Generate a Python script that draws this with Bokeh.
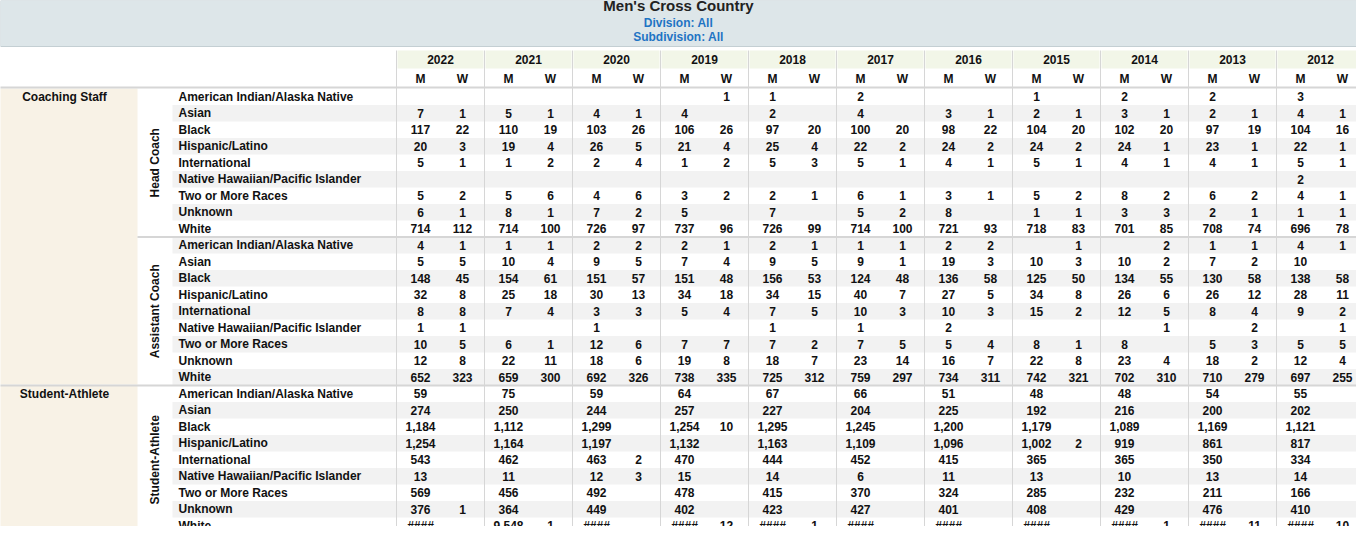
from math import pi
from bokeh.plotting import figure
from bokeh.models import ColumnDataSource, Range1d
from bokeh.core.properties import value
from bokeh.embed import file_html
from bokeh.resources import INLINE

years = ["2022", "2021", "2020", "2019", "2018", "2017", "2016", "2015", "2014", "2013", "2012"]
races = ["American Indian/Alaska Native", "Asian", "Black", "Hispanic/Latino", "International",
         "Native Hawaiian/Pacific Islander", "Two or More Races", "Unknown", "White"]
sections = ["Head Coach", "Assistant Coach", "Student-Athlete"]

head_m = {
    "2022": ["", 7, 117, 20, 5, "", 5, 6, 714],
    "2021": ["", 5, 110, 19, 1, "", 5, 8, 714],
    "2020": ["", 4, 103, 26, 2, "", 4, 7, 726],
    "2019": ["", 4, 106, 21, 1, "", 3, 5, 737],
    "2018": [1, 2, 97, 25, 5, "", 2, 7, 726],
    "2017": [2, 4, 100, 22, 5, "", 6, 5, 714],
    "2016": ["", 3, 98, 24, 4, "", 3, 8, 721],
    "2015": [1, 2, 104, 24, 5, "", 5, 1, 718],
    "2014": [2, 3, 102, 24, 4, "", 8, 3, 701],
    "2013": [2, 2, 97, 23, 4, "", 6, 2, 708],
    "2012": [3, 4, 104, 22, 5, 2, 4, 1, 696],
}
head_w = {
    "2022": ["", 1, 22, 3, 1, "", 2, 1, 112],
    "2021": ["", 1, 19, 4, 2, "", 6, 1, 100],
    "2020": ["", 1, 26, 5, 4, "", 6, 2, 97],
    "2019": [1, "", 26, 4, 2, "", 2, "", 96],
    "2018": ["", "", 20, 4, 3, "", 1, "", 99],
    "2017": ["", "", 20, 2, 1, "", 1, 2, 100],
    "2016": ["", 1, 22, 2, 1, "", 1, "", 93],
    "2015": ["", 1, 20, 2, 1, "", 2, 1, 83],
    "2014": ["", 1, 20, 1, 1, "", 2, 3, 85],
    "2013": ["", 1, 19, 1, 1, "", 2, 1, 74],
    "2012": ["", 1, 16, 1, 1, "", 1, 1, 78],
}
asst_m = {
    "2022": [4, 5, 148, 32, 8, 1, 10, 12, 652],
    "2021": [1, 10, 154, 25, 7, "", 6, 22, 659],
    "2020": [2, 9, 151, 30, 3, 1, 12, 18, 692],
    "2019": [2, 7, 151, 34, 5, "", 7, 19, 738],
    "2018": [2, 9, 156, 34, 7, 1, 7, 18, 725],
    "2017": [1, 9, 124, 40, 10, 1, 7, 23, 759],
    "2016": [2, 19, 136, 27, 10, 2, 5, 16, 734],
    "2015": ["", 10, 125, 34, 15, "", 8, 22, 742],
    "2014": ["", 10, 134, 26, 12, "", 8, 23, 702],
    "2013": [1, 7, 130, 26, 8, "", 5, 18, 710],
    "2012": [4, 10, 138, 28, 9, "", 5, 12, 697],
}
asst_w = {
    "2022": [1, 5, 45, 8, 8, 1, 5, 8, 323],
    "2021": [1, 4, 61, 18, 4, "", 1, 11, 300],
    "2020": [2, 5, 57, 13, 3, "", 6, 6, 326],
    "2019": [1, 4, 48, 18, 4, "", 7, 8, 335],
    "2018": [1, 5, 53, 15, 5, "", 2, 7, 312],
    "2017": [1, 1, 48, 7, 3, "", 5, 14, 297],
    "2016": [2, 3, 58, 5, 3, "", 4, 7, 311],
    "2015": [1, 3, 50, 8, 2, "", 1, 8, 321],
    "2014": [2, 2, 55, 6, 5, 1, "", 4, 310],
    "2013": [1, 2, 58, 12, 4, 2, 3, 2, 279],
    "2012": [1, "", 58, 11, 2, 1, 5, 4, 255],
}
student_m = {
    "2022": ["59", "274", "1,184", "1,254", "543", "13", "569", "376", "####"],
    "2021": ["75", "250", "1,112", "1,164", "462", "11", "456", "364", "9,548"],
    "2020": ["59", "244", "1,299", "1,197", "463", "12", "492", "449", "####"],
    "2019": ["64", "257", "1,254", "1,132", "470", "15", "478", "402", "####"],
    "2018": ["67", "227", "1,295", "1,163", "444", "14", "415", "423", "####"],
    "2017": ["66", "204", "1,245", "1,109", "452", "6", "370", "427", "####"],
    "2016": ["51", "225", "1,200", "1,096", "415", "11", "324", "401", "####"],
    "2015": ["48", "192", "1,179", "1,002", "365", "13", "285", "408", "####"],
    "2014": ["48", "216", "1,089", "919", "365", "10", "232", "429", "####"],
    "2013": ["54", "200", "1,169", "861", "350", "13", "211", "476", "####"],
    "2012": ["55", "202", "1,121", "817", "334", "14", "166", "410", "####"],
}
student_w = {
    "2022": ["", "", "", "", "", "", "", "1", ""],
    "2021": ["", "", "", "", "", "", "", "", "1"],
    "2020": ["", "", "", "", "2", "3", "", "", ""],
    "2019": ["", "", "10", "", "", "", "", "", "12"],
    "2018": ["", "", "", "", "", "", "", "", "1"],
    "2017": ["", "", "", "", "", "", "", "", ""],
    "2016": ["", "", "", "", "", "", "", "", ""],
    "2015": ["", "", "", "2", "", "", "", "", ""],
    "2014": ["", "", "", "", "", "", "", "", "1"],
    "2013": ["", "", "", "", "", "", "", "", "11"],
    "2012": ["", "", "", "", "", "", "", "", "10"],
}

W, H = 1372, 542
# one unit = one window pixel; the page margin puts the plot at (8, 8)
p = figure(width=1356, height=526, x_range=Range1d(8, W - 8), y_range=Range1d(H - 8, 8),
           output_backend="svg", toolbar_location=None, min_border=0)
p.axis.visible = False
p.grid.visible = False
p.outline_line_color = None

FONT = value("Liberation Sans")
BLUE = "#1f74c4"
GRID = "#d6d6d6"

row_top, row_h = 96.0, 16.5
col0, col_w = 404.0, 88.0
nrows = len(sections) * len(races)

# title band
p.quad(left=[8], right=[W - 8], top=[8], bottom=[54], fill_color="#dde6e9", line_color="#c4cfd3")
p.text(x=[W / 2], y=[13], text=["Men's Cross Country"], text_font=FONT, text_font_style="bold",
       text_font_size="15px", text_color="#222222", text_align="center", text_baseline="middle")
p.text(x=[W / 2, W / 2], y=[30, 44], text=["Division: All", "Subdivision: All"], text_font=FONT,
       text_font_style="bold", text_font_size="12px", text_color=BLUE, text_align="center",
       text_baseline="middle")

# row shading
shade = [i for i in range(nrows) if i % 2 == 1]
p.quad(left=180, right=W, top=[row_top + i * row_h for i in shade],
       bottom=[row_top + (i + 1) * row_h for i in shade], fill_color="#f2f2f2", line_color=None)
# beige left column
p.quad(left=0, right=145, top=[row_top, row_top + 18 * row_h], bottom=[row_top + 18 * row_h - 1, H],
       fill_color="#f8f2e6", line_color=None)
# year header band
p.quad(left=[col0 + i * col_w + 1 for i in range(len(years))],
       right=[col0 + (i + 1) * col_w - 1 for i in range(len(years))],
       top=58, bottom=76, fill_color="#f2f6e8", line_color=None)

# grid lines
vx = [col0 + i * col_w for i in range(len(years))]
p.segment(x0=vx, y0=58, x1=vx, y1=H, line_color=GRID, line_width=1)
p.segment(x0=[0, 145, 0], y0=[row_top - 1, row_top + 9 * row_h, row_top + 18 * row_h],
          x1=[W, W, W], y1=[row_top - 1, row_top + 9 * row_h, row_top + 18 * row_h],
          line_color=GRID, line_width=2)

tx, ty, tt = [], [], []
for i, y in enumerate(years):
    left = col0 + i * col_w
    tx += [left + col_w / 2, left + 24, left + 66]
    ty += [67, 86, 86]
    tt += [y, "M", "W"]
    for s, (mm, ww) in enumerate([(head_m, head_w), (asst_m, asst_w), (student_m, student_w)]):
        for r in range(len(races)):
            yc = row_top + (s * 9 + r + 0.5) * row_h
            for xo, v in ((24, mm[y][r]), (66, ww[y][r])):
                if v != "":
                    tx.append(left + xo)
                    ty.append(yc)
                    tt.append(str(v))
p.text(x="x", y="y", text="t", source=ColumnDataSource(dict(x=tx, y=ty, t=tt)), text_font=FONT,
       text_font_style="bold", text_font_size="12px", text_color="#111111", text_align="center",
       text_baseline="middle")

lx, ly, lt = [], [], []
for s in range(len(sections)):
    for r, name in enumerate(races):
        lx.append(186)
        ly.append(row_top + (s * 9 + r + 0.5) * row_h)
        lt.append(name)
p.text(x="x", y="y", text="t", source=ColumnDataSource(dict(x=lx, y=ly, t=lt)), text_font=FONT,
       text_font_style="bold", text_font_size="12px", text_color="#111111", text_align="left",
       text_baseline="middle")

p.text(x=[72, 72], y=[row_top + 0.5 * row_h, row_top + 18.5 * row_h],
       text=["Coaching Staff", "Student-Athlete"], text_font=FONT, text_font_style="bold",
       text_font_size="12px", text_color="#111111", text_align="center", text_baseline="middle")
p.text(x=[162] * 3, y=[row_top + (s * 9 + 4.5) * row_h for s in range(3)], text=sections,
       angle=pi / 2, text_font=FONT, text_font_style="bold", text_font_size="12px",
       text_color="#111111", text_align="center", text_baseline="middle")

open("out.html", "w").write(file_html(p, INLINE))
